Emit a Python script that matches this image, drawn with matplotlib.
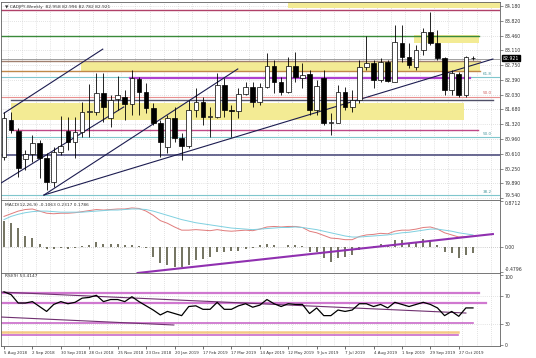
import numpy as np
import matplotlib
matplotlib.use("Agg")
import matplotlib.pyplot as plt
from matplotlib.transforms import blended_transform_factory

# weekly candles (open, high, low, close), one per week from 5 Aug 2018
opens = [80.53, 81.42, 81.16, 80.48, 80.60, 80.87, 80.51, 79.93, 80.65, 81.16,
         80.89, 81.13, 81.62, 81.62, 82.08, 81.47, 81.94, 81.98, 81.81, 82.42,
         82.10, 81.71, 81.35, 80.77, 81.47, 80.99, 80.80, 81.67, 81.86, 81.50,
         81.50, 82.27, 81.67, 81.65, 82.05, 82.22, 81.86, 82.22, 82.73, 82.34,
         82.10, 82.73, 82.44, 82.54, 81.67, 82.44, 81.35, 81.35, 82.10, 81.74,
         81.91, 82.70, 82.80, 82.39, 82.83, 82.34, 83.29, 82.95, 82.70, 83.12,
         83.55, 83.29, 82.92, 82.15, 82.54, 82.03, 82.92]
highs = [81.62, 81.62, 81.23, 80.70, 81.06, 80.94, 80.63, 80.77, 81.52, 81.50,
         81.50, 81.86, 82.29, 82.56, 82.56, 82.03, 82.49, 82.15, 82.63, 82.46,
         82.32, 81.84, 81.42, 81.55, 81.74, 81.11, 81.91, 82.20, 81.98, 81.74,
         82.56, 82.44, 81.79, 82.20, 82.34, 82.34, 82.32, 83.04, 82.87, 82.46,
         82.95, 83.07, 82.80, 82.63, 82.39, 82.63, 81.59, 82.27, 82.22, 82.15,
         82.87, 83.45, 82.87, 82.92, 82.87, 83.72, 83.72, 83.29, 83.24, 83.65,
         84.04, 83.60, 82.95, 82.63, 82.58, 82.97, 82.97]
lows = [80.46, 81.11, 80.05, 80.22, 80.41, 80.02, 79.73, 79.81, 80.58, 80.70,
        80.51, 81.01, 81.01, 81.55, 81.38, 81.26, 81.67, 81.42, 81.55, 81.55,
        81.59, 81.30, 80.53, 80.63, 80.89, 80.46, 80.75, 81.50, 81.30, 81.01,
        81.47, 81.50, 81.01, 81.47, 82.03, 81.74, 81.79, 82.20, 82.08, 82.03,
        82.08, 82.34, 82.20, 81.55, 81.55, 81.30, 81.06, 81.35, 81.67, 81.62,
        81.84, 82.63, 82.20, 82.34, 82.34, 82.34, 82.83, 82.68, 82.63, 83.00,
        83.24, 82.87, 82.03, 82.03, 81.98, 81.98, 82.87]
closes = [81.47, 81.18, 80.26, 80.60, 80.87, 80.51, 79.93, 80.65, 80.80, 80.89,
          81.13, 81.62, 81.64, 82.08, 81.74, 81.91, 82.03, 81.81, 82.44, 82.10,
          81.71, 81.35, 80.89, 81.47, 80.99, 80.80, 81.67, 81.86, 81.50, 81.52,
          82.27, 81.67, 81.65, 82.05, 82.22, 81.86, 82.22, 82.73, 82.34, 82.10,
          82.73, 82.46, 82.51, 81.67, 82.25, 81.35, 81.38, 82.10, 81.74, 81.91,
          82.70, 82.80, 82.39, 82.83, 82.37, 83.31, 82.95, 82.75, 83.12, 83.55,
          83.29, 82.92, 82.15, 82.56, 82.03, 82.95, 82.92]

macd_hist = [0.50, 0.45, 0.36, 0.21, 0.17, 0.06, -0.04, -0.03, -0.02, -0.03,
             -0.02, 0.02, 0.04, 0.09, 0.05, 0.05, 0.05, 0.03, 0.04, 0.02,
             -0.02, -0.18, -0.30, -0.34, -0.37, -0.37, -0.34, -0.25, -0.22, -0.19,
             -0.10, -0.09, -0.08, -0.08, -0.04, -0.02, 0.03, 0.06, 0.03, 0.01,
             0.04, 0.03, 0.02, -0.09, -0.09, -0.21, -0.28, -0.21, -0.18, -0.15,
             -0.05, -0.02, 0.02, 0.05, 0.03, 0.13, 0.13, 0.07, 0.09, 0.15,
             0.13, 0.04, -0.10, -0.12, -0.21, -0.15, -0.11]
macd_main = [0.58, 0.63, 0.68, 0.71, 0.72, 0.68, 0.64, 0.63, 0.64, 0.64,
             0.65, 0.67, 0.69, 0.71, 0.70, 0.71, 0.72, 0.72, 0.74, 0.73,
             0.68, 0.60, 0.50, 0.45, 0.38, 0.32, 0.32, 0.33, 0.32, 0.31,
             0.33, 0.31, 0.30, 0.31, 0.32, 0.31, 0.34, 0.38, 0.39, 0.38,
             0.39, 0.39, 0.37, 0.30, 0.27, 0.22, 0.17, 0.16, 0.14, 0.14,
             0.20, 0.23, 0.24, 0.26, 0.25, 0.30, 0.32, 0.32, 0.34, 0.37,
             0.38, 0.34, 0.27, 0.23, 0.19, 0.20, 0.21]
macd_signal = [0.52, 0.58, 0.62, 0.65, 0.67, 0.68, 0.68, 0.67, 0.66, 0.66,
               0.66, 0.66, 0.67, 0.68, 0.69, 0.70, 0.70, 0.71, 0.72, 0.72,
               0.71, 0.68, 0.64, 0.60, 0.56, 0.52, 0.49, 0.46, 0.44, 0.42,
               0.40, 0.38, 0.36, 0.35, 0.34, 0.33, 0.34, 0.35, 0.36, 0.37,
               0.37, 0.38, 0.37, 0.35, 0.33, 0.30, 0.27, 0.24, 0.21, 0.19,
               0.19, 0.20, 0.21, 0.22, 0.23, 0.25, 0.27, 0.28, 0.30, 0.32,
               0.34, 0.34, 0.32, 0.30, 0.27, 0.25, 0.23]
rsi = [76, 72, 60, 60, 62, 55, 48, 58, 62, 59, 61, 67, 68, 71, 62, 65, 65, 62,
       69, 62, 56, 50, 43, 48, 45, 42, 55, 56, 51, 51, 61, 51, 51, 56, 59, 54,
       57, 65, 59, 55, 59, 58, 58, 45, 53, 42, 42, 50, 48, 50, 59, 59, 55, 58,
       53, 61, 58, 55, 58, 61, 58, 53, 42, 48, 41, 53, 53]

date_labels = ["5 Aug 2018", "2 Sep 2018", "30 Sep 2018", "28 Oct 2018", "25 Nov 2018",
               "23 Dec 2018", "20 Jan 2019", "17 Feb 2019", "17 Mar 2019", "14 Apr 2019",
               "12 May 2019", "9 Jun 2019", "7 Jul 2019", "4 Aug 2019", "1 Sep 2019",
               "29 Sep 2019", "27 Oct 2019"]
price_ticks = [84.180, 83.820, 83.460, 83.110, 82.750, 82.390, 82.030, 81.680,
               81.320, 80.960, 80.610, 80.250, 79.890, 79.540]
last_price = 82.921

# drawn objects: trendlines (i0, p0, i1, p1)
trendlines = [(0.0, 81.59, 13.9, 83.14), (-0.42, 79.90, 16.85, 81.74),
              (5.62, 79.61, 32.9, 82.66), (5.62, 79.61, 68.8, 82.90)]
# horizontal levels (price, from, to, colour, width)
levels = [(84.08, -1, 70, "#b04068", 1.0), (83.455, -1, 66.85, "#3a8a3a", 1.0),
          (82.85, -1, 67, "#a08070", 1.0), (82.61, -1, 67, "#c08848", 1.0),
          (82.90, -1, 70, "#909090", 0.6), (82.46, -1, 70, "#7fc6cc", 0.8),
          (82.44, 17.8, 65.6, "#b040d0", 1.6), (81.99, -1, 70, "#e89090", 0.8),
          (81.91, 1.0, 68.8, "#505068", 1.0), (81.18, 1.0, 66.7, "#c04888", 1.0),
          (81.01, -1, 70, "#7fc6cc", 0.8), (80.58, -1, 69.8, "#505080", 1.2),
          (79.61, -1, 70, "#7fc6cc", 0.8)]
# highlighted zones (low, high, from, to)
zones = [(84.13, 84.33, 40.0, 69.8), (83.29, 83.48, 57.7, 66.85),
         (82.61, 82.85, 10.8, 67.0), (81.42, 81.84, 1.0, 64.7)]
fib_labels = [(82.46, "61.8", "#4a9aa0"), (81.99, "50.0", "#d06060"),
              (81.01, "50.0", "#4a9aa0"), (79.61, "38.2", "#4a9aa0")]
rsi_levels = [(74.3, 66.85, "#c860c8", 1.6), (60.0, 67.8, "#c860c8", 1.6),
              (31.4, 66.0, "#c050c0", 1.2), (18.6, 63.9, "#f3c070", 1.8),
              (14.3, 63.9, "#c050c0", 1.2)]
rsi_trend = [(-0.42, 75.7, 65.0, 45.7), (-0.42, 40.0, 23.9, 28.6)]
macd_trend = (18.8, -0.49, 68.8, 0.246)

W, H = 536, 358
fig = plt.figure(figsize=(W / 100, H / 100), dpi=100)
fig.patch.set_facecolor("white")


def add_panel(top, bottom):
    return fig.add_axes([1 / W, 1 - bottom / H, 499 / W, (bottom - top) / H])


ax = add_panel(2, 200)
ax_m = add_panel(200, 273)
ax_r = add_panel(273, 346)

idx = np.arange(len(opens))
xlim = (-0.42, 69.8)
grid_x = np.arange(0.5, 70, 2)
fs = 3.3

for a in (ax, ax_m, ax_r):
    a.set_xlim(*xlim)
    for s in a.spines.values():
        s.set_color("#606060")
        s.set_linewidth(0.6)
    a.yaxis.tick_right()
    a.tick_params(axis="y", labelsize=fs, length=2, width=0.4, pad=1.5, colors="#333333")
    a.tick_params(axis="x", length=0)
    a.set_xticks([])
    for gx in grid_x:
        a.axvline(gx, color="#c8c8c8", lw=0.5, ls=(0, (1, 2)), zorder=0)

# ---- main price panel
ax.set_ylim(79.49, 84.28)
ax.set_yticks(price_ticks)
ax.set_yticklabels([f"{v:.3f}" for v in price_ticks])
ax.get_yticklabels()[-1].set_va("bottom")
for p in price_ticks:
    ax.axhline(p, color="#c8c8c8", lw=0.5, ls=(0, (1, 2)), zorder=0)

for lo, hi, x0, x1 in zones:
    ax.fill_between([x0, x1], lo, hi, color="#f3eb94", lw=0, zorder=1)
for p, x0, x1, c, lw in levels:
    ax.plot([x0, x1], [p, p], color=c, lw=lw, zorder=2)
for p, t, c in fib_labels:
    ax.text(67.4, p + 0.03, t, color=c, fontsize=3.0, ha="left", va="bottom", zorder=3)
for x0, p0, x1, p1 in trendlines:
    ax.plot([x0, x1], [p0, p1], color="#1c1c50", lw=0.8, zorder=4)

o, h, l, c = map(np.array, (opens, highs, lows, closes))
ax.vlines(idx, l, h, color="black", lw=0.6, zorder=5)
up = c >= o
body_lo = np.minimum(o, c)
body_h = np.maximum(np.abs(c - o), 0.012)
ax.bar(idx[up], body_h[up], bottom=body_lo[up], width=0.66, color="white",
       edgecolor="black", lw=0.5, zorder=6)
ax.bar(idx[~up], body_h[~up], bottom=body_lo[~up], width=0.66, color="black",
       edgecolor="black", lw=0.5, zorder=6)

tr = blended_transform_factory(ax.transAxes, ax.transData)
ax.text(1.006, last_price, f"{last_price:.3f}", transform=tr, fontsize=fs, color="white",
        va="center", ha="left", bbox=dict(boxstyle="square,pad=0.15", fc="black", ec="black"),
        zorder=10)
ax.text(0.008, 0.985, "\u25bc CADJPY,Weekly  82.958 82.996 82.782 82.921", transform=ax.transAxes,
        fontsize=3.2, va="top", ha="left", color="#333333", zorder=10)

# ---- MACD panel
ax_m.set_ylim(-0.49, 0.89)
ax_m.set_yticks([0.8712, 0.0, -0.4796])
ax_m.set_yticklabels(["0.8712", "0.00", "-0.4796"])
ax_m.get_yticklabels()[0].set_va("top")
ax_m.get_yticklabels()[2].set_va("bottom")
ax_m.axhline(0, color="#a0a0a0", lw=0.5, ls=(0, (1, 2)), zorder=0)
ax_m.vlines(idx, 0, macd_hist, color="#4d4d36", lw=1.1, zorder=3)
ax_m.plot(idx, macd_main, color="#e07b7b", lw=0.7, zorder=4)
ax_m.plot(idx, macd_signal, color="#7fd0e0", lw=0.7, zorder=4)
x0, v0, x1, v1 = macd_trend
ax_m.plot([x0, x1], [v0, v1], color="#9030b0", lw=1.5, zorder=5)
ax_m.text(0.008, 0.96, "MACD(12,26,9) -0.1063 0.2317 0.1786", transform=ax_m.transAxes,
          fontsize=3.2, va="top", ha="left", color="#333333")

# ---- RSI panel
ax_r.set_ylim(-1.4, 102.9)
ax_r.set_yticks([100, 70, 30, 0])
ax_r.set_yticklabels(["100", "70", "30", "0"])
ax_r.get_yticklabels()[0].set_va("top")
for lv in (70, 30):
    ax_r.axhline(lv, color="#c8c8c8", lw=0.5, ls=(0, (1, 2)), zorder=0)
for v, x1, col, lw in rsi_levels:
    ax_r.plot([-1, x1], [v, v], color=col, lw=lw, alpha=0.85, zorder=2)
for x0, v0, x1, v1 in rsi_trend:
    ax_r.plot([x0, x1], [v0, v1], color="#703070", lw=0.8, zorder=3)
ax_r.plot(idx, rsi, color="black", lw=0.9, zorder=4)
ax_r.text(0.008, 0.985, "RSI(9) 53.4147", transform=ax_r.transAxes,
          fontsize=3.2, va="top", ha="left", color="#333333")

ax_r.set_xticks(np.arange(0, 4 * len(date_labels), 4))
ax_r.set_xticklabels(date_labels, fontsize=2.9, ha="left", color="#333333")
ax_r.tick_params(axis="x", length=2, width=0.4, pad=1.5)

fig.savefig("out.png", dpi=100, facecolor="white")
